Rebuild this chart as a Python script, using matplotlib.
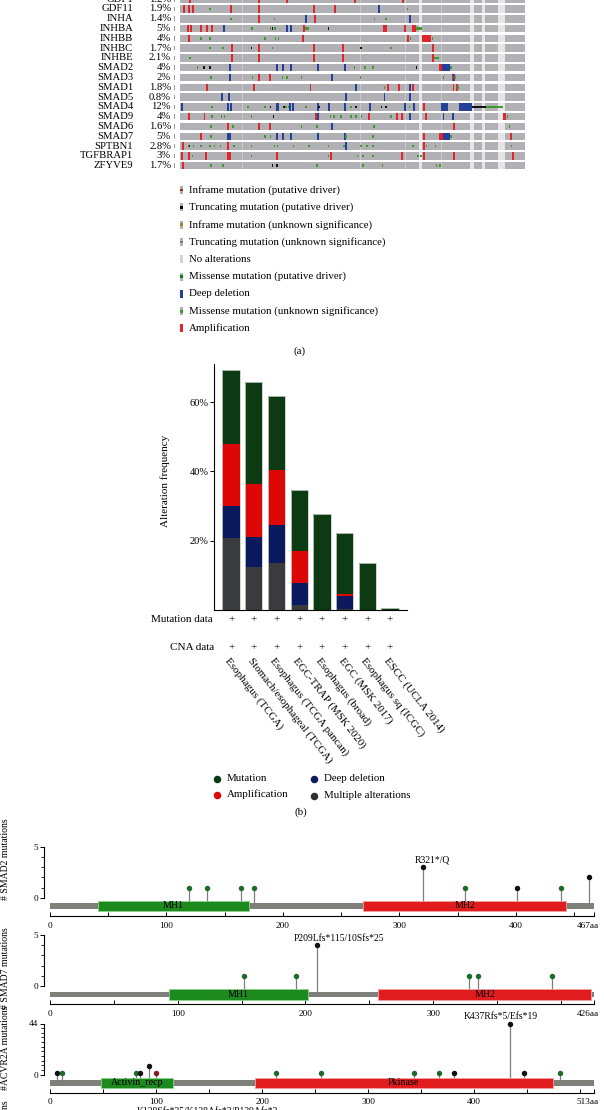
import matplotlib
matplotlib.use("Agg")
import numpy as np
import matplotlib.pyplot as plt
from matplotlib.patches import Rectangle
from matplotlib.transforms import blended_transform_factory, ScaledTranslation

plt.rcParams['font.family'] = ['Liberation Serif', 'DejaVu Serif']
plt.rcParams['axes.linewidth'] = 0.8

# ======================= DATA =======================
# ---- (a) oncoprint ----
genes = ['GDF1', 'GDF11', 'INHA', 'INHBA', 'INHBB', 'INHBC', 'INHBE', 'SMAD2', 'SMAD3',
         'SMAD1', 'SMAD5', 'SMAD4', 'SMAD9', 'SMAD6', 'SMAD7', 'SPTBN1', 'TGFBRAP1', 'ZFYVE9']
altered_pct = ['1.2%', '1.9%', '1.4%', '5%', '4%', '1.7%', '2.1%', '4%', '2%',
               '1.8%', '0.8%', '12%', '4%', '1.6%', '5%', '2.8%', '3%', '1.7%']
N_SAMPLES = 895

amp_marks = {
    'GDF1': [23, 202, 275, 451, 575],
    'GDF11': [7, 21, 32, 129, 202, 345, 400],
    'INHA': [203, 348],
    'INHBA': [18, 25, 53, 67, 80, 318, 526, 531, 581],
    'INHBB': [20, 316, 588],
    'INHBC': [132, 203, 345, 421, 655],
    'INHBE': [132, 203, 345, 421, 655],
    'SMAD3': [203, 230, 706],
    'SMAD1': [67, 189, 336, 538, 565, 603, 707, 715],
    'SMAD4': [630],
    'SMAD9': [20, 61, 350, 488, 561, 573, 635],
    'SMAD6': [121, 203, 230, 708],
    'SMAD7': [51, 121, 631, 855],
    'SPTBN1': [6, 121, 631],
    'TGFBRAP1': [3, 21, 66, 121, 127, 248, 390, 573, 708, 861],
    'ZFYVE9': [6],
}
amp_blocks = {
    'INHBA': [(603, 10)], 'INHBB': [(628, 22)], 'SMAD2': [(671, 9)],
    'SMAD9': [(838, 7)], 'SMAD7': [(671, 10)], 'TGFBRAP1': [(630, 6)],
}
del_marks = {
    'GDF11': [513],
    'INHA': [325, 593],
    'INHBA': [111, 275, 286],
    'SMAD2': [127, 250, 264, 285, 355, 425],
    'SMAD3': [128, 393, 708],
    'SMAD1': [455, 595],
    'SMAD5': [106, 124, 427, 528, 593],
    'SMAD4': [3, 123, 129, 248, 253, 283, 290, 355, 385, 425, 491, 581, 605],
    'SMAD9': [355, 595, 681, 705],
    'SMAD6': [393],
    'SMAD7': [123, 127, 250, 264, 285, 355, 425],
    'SPTBN1': [428],
}
del_blocks = {
    'SMAD2': [(680, 20)], 'SMAD4': [(678, 17), (723, 35)], 'SMAD7': [(681, 19)],
}
mis_marks = {
    'GDF1': [78, 581],
    'GDF11': [76, 588],
    'INHA': [130, 243, 503, 533],
    'INHBA': [185, 233, 245, 325, 330],
    'INHBB': [53, 76, 218, 246, 253, 596, 653],
    'INHBC': [76, 110, 238, 546],
    'INHBE': [24],
    'SMAD2': [43, 451, 478, 498, 701],
    'SMAD3': [78, 186, 264, 275, 313, 466, 681, 712],
    'SMAD1': [528, 719],
    'SMAD4': [81, 175, 219, 273, 280, 325, 441, 453, 593],
    'SMAD9': [81, 106, 113, 183, 388, 398, 415, 441, 455, 469, 546, 848],
    'SMAD6': [78, 135, 313, 353, 501, 853],
    'SMAD7': [78, 218, 233, 428, 498, 701],
    'SPTBN1': [21, 33, 53, 76, 88, 103, 138, 183, 243, 251, 293, 333, 383, 423, 468,
               483, 498, 603, 638, 661, 858],
    'TGFBRAP1': [31, 183, 383, 458, 473, 498, 615, 623],
    'ZFYVE9': [78, 110, 238, 251, 353, 473, 523, 663, 673],
}
mis_blocks = {
    'INHBA': [(611, 18)], 'INHBE': [(658, 13)], 'SMAD4': [(793, 45)],
}
trunc_marks = {
    'INHBA': [238, 383],
    'INHBC': [183, 468],
    'SMAD2': [60, 76, 611],
    'SMAD4': [233, 268, 358, 455, 521, 533],
    'SMAD9': [241],
    'SPTBN1': [23],
    'ZFYVE9': [238, 249],
}
trunc_blocks = {'SMAD4': [(758, 35)]}
unprofiled_cols = [(619, 8), (753, 9), (783, 9), (826, 17)]
faint_cols = [160, 467, 583, 677]

legend_a_labels = ['Inframe mutation (putative driver)', 'Truncating mutation (putative driver)',
                   'Inframe mutation (unknown significance)',
                   'Truncating mutation (unknown significance)', 'No alterations',
                   'Missense mutation (putative driver)', 'Deep deletion',
                   'Missense mutation (unknown significance)', 'Amplification']

# ---- (b) cancer type summary ----
studies = ['Esophagus (TCGA)', 'Stomach/esophageal (TCGA)', 'Esophagus (TCGA pancan)',
           'EGC-TRAP (MSK 2020)', 'Esophagus (broad)', 'EGC (MSK 2017)',
           'Esophagus sq (ICGC)', 'ESCC (UCLA 2014)']
multiple_alt = [20.9, 12.3, 13.6, 1.4, 0.0, 0.4, 0.0, 0.0]
deep_deletion = [9.1, 8.7, 10.8, 6.3, 0.0, 3.7, 0.0, 0.0]
amplification = [17.8, 15.5, 16.0, 9.4, 0.0, 0.4, 0.0, 0.0]
mutation = [21.6, 29.2, 21.4, 17.5, 27.6, 17.6, 13.5, 0.6]
bar_yticks = [20, 40, 60]
legend_b_labels = ['Mutation', 'Amplification', 'Deep deletion', 'Multiple alterations']

# ---- (c) lollipops ----
smad2_pos = [119, 135, 164, 175, 320, 356, 401, 439, 463]
smad2_cnt = [1, 1, 1, 1, 3, 1, 1, 1, 2]
smad2_cls = ['mis', 'mis', 'mis', 'mis', 'trunc', 'mis', 'trunc', 'mis', 'trunc']
smad2_domains = [('MH1', 41, 171, 'g'), ('MH2', 269, 443, 'r')]
smad2_label = ('R321*/Q', 320, 3)

smad7_pos = [152, 193, 209, 328, 335, 393]
smad7_cnt = [1, 1, 4, 1, 1, 1]
smad7_cls = ['mis', 'mis', 'trunc', 'mis', 'mis', 'mis']
smad7_domains = [('MH1', 93, 202, 'g'), ('MH2', 257, 424, 'r')]
smad7_label = ('P209Lfs*115/10Sfs*25', 209, 4)

acvr2a_pos = [7, 11, 81, 85, 93, 100, 213, 256, 343, 367, 381, 434, 447, 481]
acvr2a_cnt = [1, 1, 1, 1, 7, 1, 1, 1, 1, 1, 1, 44, 1, 1]
acvr2a_cls = ['trunc', 'mis', 'mis', 'trunc', 'trunc', 'infr', 'mis', 'mis', 'mis', 'mis',
              'trunc', 'trunc', 'trunc', 'mis']
acvr2a_domains = [('Activin_recp', 48, 116, 'g'), ('Pkinase', 193, 474, 'r')]
acvr2a_label = ('K437Rfs*5/Efs*19', 434, 44)

tgfbr2_label = 'K128Sfs*35/K128Afs*3/P129Afs*3'

# ======================= STYLE =======================
W, H = 604, 1110
C_TRACK = '#b1b1b5'
C_AMP = '#e0262b'
C_DEL = '#24409a'
C_MIS = '#3f9a2c'
C_TRUNC = '#111111'
C_B_MUT = '#0c3a13'
C_B_AMP = '#dd0707'
C_B_DEL = '#0b195e'
C_B_MULT = '#3a3b3f'

fig = plt.figure(figsize=(W / 100, H / 100), dpi=100)


def rect(x0, y0, x1, y1):
    return [x0 / W, 1 - y1 / H, (x1 - x0) / W, (y1 - y0) / H]


ov = fig.add_axes([0, 0, 1, 1])
ov.set_xlim(0, W)
ov.set_ylim(H, 0)
ov.axis('off')

# ---------------- (a) oncoprint ----------------
ROW0, PITCH = -0.8, 9.79
axo = fig.add_axes(rect(180, 0, 525, 180))
axo.set_xlim(0, N_SAMPLES)
axo.set_ylim((180 - ROW0) / PITCH, (0 - ROW0) / PITCH)
axo.axis('off')
TH = 0.76
AW, MW = 5, 4
lab_tr = blended_transform_factory(ov.transData, axo.transData)
for r, g in enumerate(genes):
    y0 = r - TH / 2
    axo.broken_barh([(0, N_SAMPLES)], (y0, TH), facecolors=C_TRACK)
    axo.broken_barh([(s, 2.5) for s in faint_cols], (y0, TH), facecolors='#c9c9cd')
    axo.broken_barh(unprofiled_cols, (y0, TH), facecolors='#e5e5e7')
    amps = [(p, AW) for p in amp_marks.get(g, [])] + amp_blocks.get(g, [])
    dels = [(p, AW) for p in del_marks.get(g, [])] + del_blocks.get(g, [])
    mis = [(p, MW) for p in mis_marks.get(g, [])] + mis_blocks.get(g, [])
    tru = [(p, MW) for p in trunc_marks.get(g, [])] + trunc_blocks.get(g, [])
    if amps:
        axo.broken_barh(amps, (y0, TH), facecolors=C_AMP)
    if dels:
        axo.broken_barh(dels, (y0, TH), facecolors=C_DEL)
    if mis:
        axo.broken_barh(mis, (r - TH / 6, TH / 3), facecolors=C_MIS)
    if tru:
        axo.broken_barh(tru, (r - TH / 6, TH / 3), facecolors=C_TRUNC)
    ov.text(133, r, g, transform=lab_tr, ha='right', va='center', fontsize=7.7)
    ov.text(171, r, altered_pct[r], transform=lab_tr, ha='right', va='center', fontsize=7.7)
    ypx = ROW0 + PITCH * r
    ov.add_patch(Rectangle((173.5, ypx - 2.3), 1.6, 4.6, facecolor='#9c9c9c', lw=0))

# legend (a)
leg_cols = ['#993404', '#000000', '#a68028', '#708090', None, '#0a7a10', C_DEL, C_MIS, C_AMP]
leg_full = [False, False, False, False, False, False, True, False, True]
for i, lab in enumerate(legend_a_labels):
    y = 190 + 17.3 * i
    base = '#d2d2d4' if leg_cols[i] is None else C_TRACK
    ov.add_patch(Rectangle((180, y - 4), 2.6, 8, facecolor=base, lw=0))
    if leg_cols[i] is not None:
        if leg_full[i]:
            ov.add_patch(Rectangle((180, y - 4), 2.6, 8, facecolor=leg_cols[i], lw=0))
        else:
            ov.add_patch(Rectangle((180, y - 1.4), 2.6, 2.8, facecolor=leg_cols[i], lw=0))
    ov.text(189, y, lab, ha='left', va='center', fontsize=7.8)
ov.text(300, 351, '(a)', ha='center', va='center', fontsize=7.8)

# ---------------- (b) bar chart ----------------
axb = fig.add_axes(rect(214, 364, 407.5, 610))
xs = np.arange(len(studies))
bottom = np.zeros(len(studies))
for vals, col in [(multiple_alt, C_B_MULT), (deep_deletion, C_B_DEL),
                  (amplification, C_B_AMP), (mutation, C_B_MUT)]:
    vals = np.array(vals)
    axb.bar(xs, vals, 0.76, bottom=bottom, color=col, edgecolor='none', zorder=2)
    bottom = bottom + vals
axb.bar(xs, bottom, 0.76, fill=False, edgecolor='#c5cfc5', lw=0.6, zorder=3)
axb.set_xlim(-0.753, 7.77)
axb.set_ylim(0, 71)
axb.spines['top'].set_visible(False)
axb.spines['right'].set_visible(False)
axb.set_xticks([])
axb.set_yticks(bar_yticks)
axb.set_yticklabels([f'{v}%' for v in bar_yticks])
axb.tick_params(axis='y', length=3, width=0.7, labelsize=7.5, pad=1)
ov.text(165, 481, 'Alteration frequency', rotation=90, ha='center', va='center', fontsize=8)

plus_tr = blended_transform_factory(axb.transData, ov.transData)
for i in xs:
    axb.text(i, 620, '+', transform=plus_tr, ha='center', va='center', fontsize=8)
    axb.text(i, 647.5, '+', transform=plus_tr, ha='center', va='center', fontsize=8)
    axb.text(i - 0.02, 656, studies[i], transform=plus_tr, rotation=-52,
             rotation_mode='anchor', ha='left', va='top', fontsize=7.9)
ov.text(213, 620, 'Mutation data', ha='right', va='center', fontsize=8)
ov.text(214, 647.5, 'CNA data', ha='right', va='center', fontsize=8)

# legend (b)
leg_b_cols = [C_B_MUT, C_B_AMP, C_B_DEL, '#2e2e30']
leg_b_xy = [(216.5, 778.5), (216.5, 794.5), (314, 778.5), (314, 796)]
for lab, col, (x, y) in zip(legend_b_labels, leg_b_cols, leg_b_xy):
    ov.plot([x], [y], 'o', ms=4.4, color=col)
    ov.text(x + 10, y, lab, ha='left', va='center', fontsize=7.8)
ov.text(300.5, 812, '(b)', ha='center', va='center', fontsize=7.8)

# ---------------- (c) lollipops ----------------
dom_cols = {'g': ('#1d8a1d', '#8fd08f'), 'r': ('#e01c1f', '#f4a0a0')}
cls_cols = {'mis': '#1e6b2a', 'trunc': '#111111', 'infr': '#8b1a1a'}
panels = [
    ('# SMAD2 mutations', 467, 5, smad2_pos, smad2_cnt, smad2_cls, smad2_domains,
     smad2_label, 9.5, ('left', 900)),
    ('# SMAD7 mutations', 426, 5, smad7_pos, smad7_cnt, smad7_cls, smad7_domains,
     smad7_label, 22, ('right', 927)),
    ('#ACVR2A mutations', 513, 44, acvr2a_pos, acvr2a_cnt, acvr2a_cls, acvr2a_domains,
     acvr2a_label, -9, ('left', 1090)),
]
for k, (ylab, L, ymax, pos, cnt, cls, doms, lab, ldx, ylpos) in enumerate(panels):
    z = 897.7 + 88.4 * k
    pxaa = 544.0 / L
    ppu = 51.0 / ymax
    ax = fig.add_axes(rect(44.3, z - 56, 598, z + 18.3))
    ax.set_xlim(-(50 - 44.3) / pxaa, (598 - 50) / pxaa)
    ax.set_ylim(-18.3 / ppu, 56 / ppu)
    ax.patch.set_alpha(0)
    for s in ['top', 'right']:
        ax.spines[s].set_visible(False)
    ax.spines['left'].set_bounds(0, ymax)
    ax.spines['bottom'].set_bounds(0, L)
    ax.set_yticks([0, ymax])
    ax.set_yticks(np.arange(0, ymax + 0.01, 1 if ymax <= 5 else 4), minor=True)
    ax.set_yticklabels(['0', str(ymax)])
    xt = [t for t in range(0, L, 100)] + [L]
    xl = [str(t) if L - t > 50 else '' for t in xt[:-1]] + [f'{L}aa']
    ax.set_xticks(xt)
    ax.set_xticklabels(xl)
    ax.set_xticks(np.arange(50, L, 100), minor=True)
    ax.tick_params(axis='y', which='major', length=3, width=0.7, labelsize=6.7, pad=1.5)
    ax.tick_params(axis='y', which='minor', length=2, width=0.6)
    ax.tick_params(axis='x', which='both', direction='in', length=3, width=0.7,
                   labelsize=6.7, pad=4)
    last = ax.xaxis.get_majorticklabels()[-1]
    last.set_transform(last.get_transform() +
                       ScaledTranslation(-6 / 100, 0, fig.dpi_scale_trans))
    # backbone and domains
    ax.add_patch(Rectangle((0, -11 / ppu), L, 5.4 / ppu, facecolor='#80807a', lw=0, zorder=1))
    for name, s, e, c in doms:
        fc, ec = dom_cols[c]
        ax.add_patch(Rectangle((s, -13.6 / ppu), e - s, 10.6 / ppu, facecolor=fc,
                               edgecolor=ec, lw=0.6, zorder=2))
        ax.text((s + e) / 2, -8.3 / ppu, name, ha='center', va='center', fontsize=7.2,
                zorder=3)
    # lollipops
    for p, c, t in zip(pos, cnt, cls):
        ax.plot([p, p], [-5.6 / ppu, c], color='#7e7e7e', lw=0.9, zorder=1.5)
        ax.plot([p], [c], 'o', ms=2.9, color=cls_cols[t], zorder=4)
    txt, lp, lc = lab
    ax.annotate(txt, xy=(lp, lc), xytext=(ldx, 2.5), textcoords='offset pixels',
                ha='center', va='bottom', fontsize=6.9)
    ha, yy = ylpos
    ov.text(6, yy, ylab, rotation=90, rotation_mode='anchor', ha=ha, va='center', fontsize=7)

# partially visible next panel (cut at figure bottom)
ov.text(207, 1106.5, tgfbr2_label, ha='center', va='top', fontsize=6.9)
ov.text(6, 1100, '# TGFBR2 mutations', rotation=90, rotation_mode='anchor',
        ha='right', va='center', fontsize=7)

fig.savefig('out.png', dpi=100)
